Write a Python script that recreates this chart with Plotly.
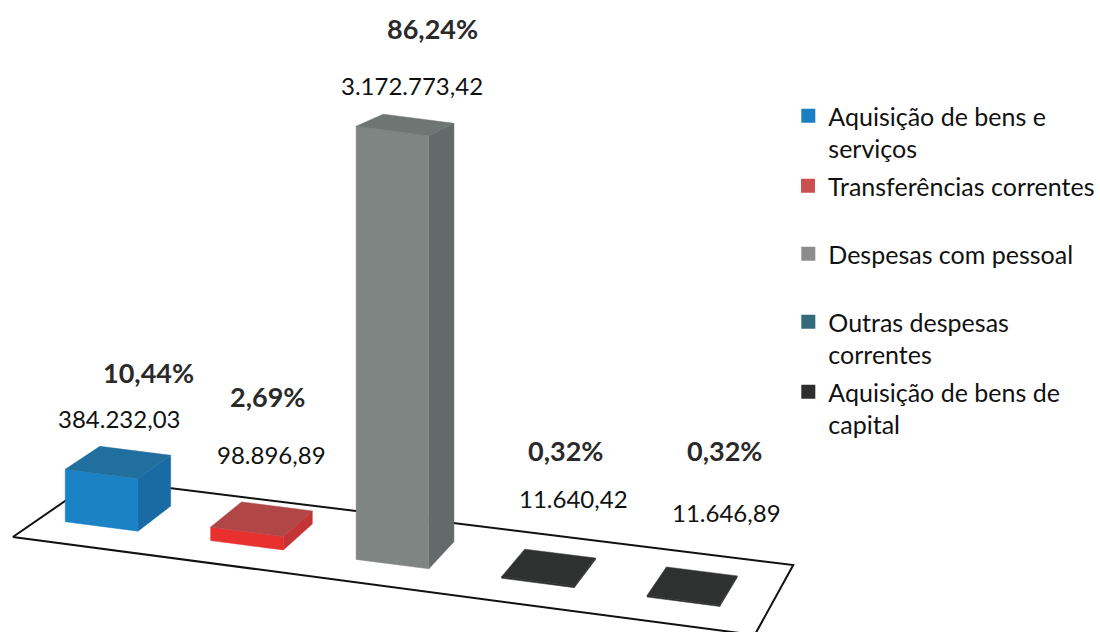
import plotly.graph_objects as go

# ---------------- data ----------------
categories = [
    "Aquisição de bens e serviços",
    "Transferências correntes",
    "Despesas com pessoal",
    "Outras despesas correntes",
    "Aquisição de bens de capital",
]
legend_labels = [
    "Aquisição de bens e<br>serviços",
    "Transferências correntes",
    "Despesas com pessoal",
    "Outras despesas<br>correntes",
    "Aquisição de bens de<br>capital",
]
values = [384232.03, 98896.89, 3172773.42, 11640.42, 11646.89]
percent_labels = ["10,44%", "2,69%", "86,24%", "0,32%", "0,32%"]

# ---------------- style ----------------
legend_colors = ["#1a7fc0", "#cc4f4f", "#8c8c8c", "#336b7b", "#2e2e2e"]
face_front = ["#1b82c6", "#e8302f", "#7f8583", "#2f3130", "#2f3130"]
face_side = ["#1a6aa6", "#c43434", "#636a69", "#2f3130", "#2f3130"]
face_top = ["#206f9f", "#b04646", "#6e7573", "#2f3130", "#2f3130"]

W_PX, H_PX = 1100, 632
PX_PER_EUR = 136.5e-6            # vertical pixels per euro
HORIZON = 800.0                  # fake perspective: vertical depth shrinks with height
FL, BL, BR, FR = (13, 537), (98, 479), (802, 565), (763, 635)   # floor outline (px)
U0, DU, HALF = 0.085, 0.2, 0.05  # slot geometry along the floor
W_FRONT, W_BACK = 0.32, 0.74     # depth extent of bars on the floor
# label offsets (px) from the front-top centre of each bar
VAL_OFF = [(18, -56), (25, -77), (20, -46), (36, -83), (44, -88)]
PCT_OFF = [(47, -102), (21, -135), (40, -103), (28, -131), (42, -150)]


def fmt_pt(v):
    s = f"{v:,.2f}"
    return s.replace(",", "X").replace(".", ",").replace("X", ".")


value_labels = [fmt_pt(v) for v in values]


def lerp(p, q, t):
    return (p[0] + (q[0] - p[0]) * t, p[1] + (q[1] - p[1]) * t)


def floor_pt(u, w):
    return lerp(lerp(FL, FR, u), lerp(BL, BR, u), w)


def to_axis(p):
    # x in layout pixels, y in euros measured from the bottom of the figure
    return p[0], (H_PX - p[1]) / PX_PER_EUR


def box_pt(u, w, value):
    h = value * PX_PER_EUR
    base = floor_pt(u, w)
    f0 = floor_pt(u, W_FRONT)
    s = 1 - h / HORIZON
    x = base[0]
    y = f0[1] + (base[1] - f0[1]) * s
    ax, ay = to_axis((x, y))
    return ax, ay + value


fig = go.Figure()

# floor
floor = [FL, BL, BR, FR, FL]
fx = [to_axis(p)[0] for p in floor]
fy = [to_axis(p)[1] for p in floor]
fig.add_trace(go.Scatter(x=fx, y=fy, mode="lines", fill="toself", fillcolor="white",
                         line=dict(color="#111111", width=2), hoverinfo="skip",
                         showlegend=False))


def face(pts, color):
    xs = [p[0] for p in pts] + [pts[0][0]]
    ys = [p[1] for p in pts] + [pts[0][1]]
    fig.add_trace(go.Scatter(x=xs, y=ys, mode="lines", fill="toself", fillcolor=color,
                             line=dict(color=color, width=0.5), hoverinfo="skip",
                             showlegend=False))


annotations = []
for i, v in enumerate(values):
    uc = U0 + DU * i
    u0, u1 = uc - HALF, uc + HALF
    a0, b0, c0 = box_pt(u0, W_FRONT, 0), box_pt(u1, W_FRONT, 0), box_pt(u1, W_BACK, 0)
    a1, b1, c1, d1 = (box_pt(u0, W_FRONT, v), box_pt(u1, W_FRONT, v),
                      box_pt(u1, W_BACK, v), box_pt(u0, W_BACK, v))
    face([b0, c0, c1, b1], face_side[i])
    face([a0, b0, b1, a1], face_front[i])
    face([a1, b1, c1, d1], face_top[i])
    # labels
    mx = (a1[0] + b1[0]) / 2
    my = (a1[1] + b1[1]) / 2
    annotations.append(dict(x=mx + VAL_OFF[i][0], y=my - VAL_OFF[i][1] / PX_PER_EUR,
                            text=value_labels[i], showarrow=False,
                            font=dict(family="Lato", size=24, color="#111111")))
    annotations.append(dict(x=mx + PCT_OFF[i][0], y=my - PCT_OFF[i][1] / PX_PER_EUR,
                            text=f"<b>{percent_labels[i]}</b>", showarrow=False,
                            font=dict(family="Lato", size=27, color="#2a2a2a")))

# legend entries (one legend box per entry, to keep the original spacing)
legend_tops = [93, 163, 231, 299, 369]
layout_legends = {}
for i, name in enumerate(legend_labels):
    key = "legend" if i == 0 else f"legend{i + 1}"
    fig.add_trace(go.Scatter(x=[None], y=[None], mode="markers", name=name,
                             marker=dict(symbol="square", size=14, color=legend_colors[i]),
                             legend=key, showlegend=True))
    layout_legends[key] = dict(x=797 / W_PX, xanchor="left", y=1 - legend_tops[i] / H_PX,
                               yanchor="top", bgcolor="rgba(0,0,0,0)", valign="top",
                               font=dict(family="Lato", size=25, color="#111111"),
                               itemclick=False, itemdoubleclick=False)

fig.update_layout(
    width=W_PX, height=H_PX,
    margin=dict(l=0, r=0, t=0, b=0),
    paper_bgcolor="white", plot_bgcolor="white",
    xaxis=dict(range=[0, W_PX], visible=False, fixedrange=True),
    yaxis=dict(range=[0, H_PX / PX_PER_EUR], visible=False, fixedrange=True),
    annotations=annotations,
    showlegend=True,
    **layout_legends,
)

fig.write_html("out.html")
